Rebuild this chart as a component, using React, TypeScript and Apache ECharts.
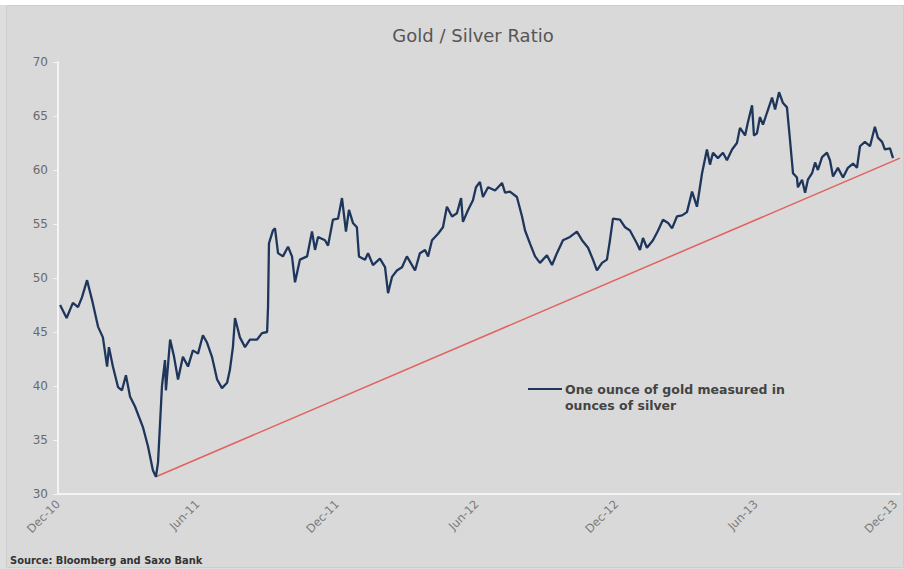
import React, { useEffect, useRef } from "react";
import * as echarts from "echarts";

// months since Dec-10 (x) and gold/silver ratio (y)
const months = [
  0.09, 0.37, 0.64, 0.86, 1.03, 1.25, 1.46, 1.72, 1.93, 2.11, 2.19, 2.36, 2.58, 2.75, 2.92, 3.1, 3.31, 3.65, 3.87, 4.08,
  4.21, 4.3, 4.47, 4.6, 4.64, 4.82, 4.99, 5.16, 5.37, 5.59, 5.8, 6.02, 6.23, 6.41, 6.62, 6.84, 7.05, 7.27, 7.39, 7.52,
  7.61, 7.82, 8.04, 8.25, 8.56, 8.77, 8.99, 9.03, 9.07, 9.24, 9.33, 9.46, 9.67, 9.89, 10.06, 10.19, 10.4, 10.71, 10.92,
  11.05, 11.18, 11.48, 11.61, 11.82, 12.04, 12.21, 12.38, 12.51, 12.68, 12.85, 12.94, 13.2, 13.33, 13.54, 13.84, 14.06,
  14.19, 14.36, 14.57, 14.79, 15.0, 15.35, 15.56, 15.78, 15.91, 16.08, 16.34, 16.55, 16.72, 16.94, 17.15, 17.33, 17.41,
  17.63, 17.84, 17.97, 18.14, 18.27, 18.49, 18.79, 19.09, 19.22, 19.43, 19.73, 19.95, 20.08, 20.29, 20.51, 20.72, 21.02,
  21.24, 21.45, 21.71, 22.01, 22.31, 22.53, 22.79, 23.0, 23.17, 23.39, 23.6, 23.73, 23.86, 24.16, 24.38, 24.59, 24.89,
  25.02, 25.15, 25.32, 25.58, 25.8, 26.01, 26.23, 26.4, 26.61, 26.83, 27.04, 27.26, 27.47, 27.69, 27.9, 28.03, 28.16,
  28.37, 28.59, 28.76, 28.98, 29.19, 29.32, 29.54, 29.66, 29.84, 29.92, 30.05, 30.18, 30.31, 30.48, 30.7, 30.83, 31.0,
  31.17, 31.34, 31.47, 31.6, 31.77, 31.81, 31.99, 32.12, 32.24, 32.42, 32.55, 32.67, 32.85, 33.06, 33.19, 33.32, 33.53,
  33.75, 33.96, 34.18, 34.35, 34.48, 34.69, 34.91, 35.12, 35.25, 35.43, 35.55, 35.77, 35.9,
];
const ratio = [
  47.5, 46.3, 47.7, 47.3, 48.2, 49.8, 48.0, 45.5, 44.5, 41.8, 43.6, 41.8, 39.9, 39.6, 41.0, 39.0, 38.1, 36.2, 34.4, 32.2,
  31.6, 32.9, 40.0, 42.4, 39.6, 44.3, 42.7, 40.6, 42.7, 41.8, 43.3, 43.0, 44.7, 44.0, 42.7, 40.6, 39.8, 40.3, 41.5, 43.6,
  46.3, 44.5, 43.6, 44.3, 44.3, 44.9, 45.0, 47.3, 53.2, 54.4, 54.6, 52.3, 52.0, 52.9, 52.0, 49.6, 51.7, 52.0, 54.3,
  52.6, 53.8, 53.5, 53.0, 55.4, 55.5, 57.4, 54.3, 56.3, 55.1, 54.7, 52.0, 51.7, 52.3, 51.2, 51.8, 51.0,
  48.6, 50.1, 50.7, 51.0, 52.0, 50.7, 52.3, 52.6, 52.0, 53.5, 54.1, 54.7, 56.6, 55.7, 56.0, 57.4, 55.2,
  56.3, 57.2, 58.4, 58.9, 57.5, 58.4, 58.1, 58.8, 57.9, 58.0, 57.5, 55.7, 54.4, 53.2, 52.0, 51.4, 52.1,
  51.2, 52.3, 53.5, 53.8, 54.3, 53.5, 52.8, 51.7, 50.7, 51.4, 51.7, 53.5, 55.5, 55.4, 54.7, 54.4, 53.2,
  52.6, 53.7, 52.8, 53.5, 54.4, 55.4, 55.1, 54.6, 55.7, 55.8, 56.1, 58.0, 56.6, 59.7, 61.9, 60.5, 61.6,
  61.1, 61.6, 60.9, 61.9, 62.5, 63.9, 63.2, 64.4, 66.0, 63.2, 63.4, 64.9, 64.2, 65.3, 66.7, 65.6, 67.2,
  66.2, 65.8, 62.8, 59.7, 59.3, 58.4, 59.1, 57.9, 59.1, 59.7, 60.7, 60.0, 61.2, 61.6, 60.9, 59.4, 60.2,
  59.3, 60.2, 60.6, 60.2, 62.2, 62.6, 62.2, 64.0, 63.0, 62.6, 61.9, 62.0, 61.1,
];
// trend line from the 2011 low to the right edge
const trendMonths = [4.21, 36.2];
const trendValues = [31.6, 61.1];

const xTickLabels = ["Dec-10", "Jun-11", "Dec-11", "Jun-12", "Dec-12", "Jun-13", "Dec-13"];
const yTicks = [30, 35, 40, 45, 50, 55, 60, 65, 70];

const TITLE = "Gold / Silver Ratio";
const LEGEND_LINE1 = "One ounce of gold measured in";
const LEGEND_LINE2 = "ounces of silver";
const SOURCE = "Source: Bloomberg and Saxo Bank";

export default function App() {
  const ref = useRef<HTMLDivElement>(null);
  useEffect(() => {
    if (!ref.current) return;
    const chart = echarts.init(ref.current, null, { renderer: "svg" });
    const lineData = months.map((m, i) => [m, ratio[i]]);
    const trendData = trendMonths.map((m, i) => [m, trendValues[i]]);
    chart.setOption({
      animation: false,
      backgroundColor: "#dedede",
      title: {
        text: TITLE,
        left: 468,
        top: 21,
        textAlign: "center",
        textStyle: { fontFamily: "DejaVu Sans", fontSize: 18, fontWeight: "normal", color: "#555" },
      },
      grid: { left: 58, right: 4, top: 62, bottom: 75 },
      xAxis: {
        type: "value",
        min: 0,
        max: 36.2,
        interval: 6,
        axisLine: { show: true, lineStyle: { color: "#f4f4f4", width: 2 } },
        axisTick: { show: false },
        splitLine: { show: false },
        axisLabel: {
          rotate: 45,
          margin: 8,
          fontFamily: "DejaVu Sans",
          fontSize: 11.5,
          color: "#7a7a7a",
          showMaxLabel: false,
          formatter: (v: number) => {
            const k = Math.round(v / 6);
            return Math.abs(v - k * 6) < 1e-6 && xTickLabels[k] ? xTickLabels[k] : "";
          },
        },
      },
      yAxis: {
        type: "value",
        min: yTicks[0],
        max: yTicks[yTicks.length - 1],
        interval: 5,
        axisLine: { show: true, lineStyle: { color: "#f4f4f4", width: 2 } },
        axisTick: { show: true, length: 5, lineStyle: { color: "#f4f4f4", width: 1 } },
        splitLine: { show: false },
        axisLabel: { margin: 10, fontFamily: "DejaVu Sans", fontSize: 12, color: "#6a6a6a" },
      },
      series: [
        {
          type: "line",
          data: trendData,
          symbol: "none",
          lineStyle: { color: "#e0625f", width: 1.5 },
          z: 2,
        },
        {
          type: "line",
          name: "ratio",
          data: lineData,
          symbol: "none",
          lineStyle: { color: "#1f365c", width: 2.3 },
          z: 3,
        },
      ],
      graphic: [
        { type: "rect", shape: { x: 0, y: 0, width: 904, height: 5 }, style: { fill: "#ffffff" }, z: -10 },
        {
          type: "rect",
          shape: { x: 6.5, y: 5.5, width: 897, height: 562 },
          style: { fill: "#d9d9d9", stroke: "#cdcdcd", lineWidth: 1 },
          z: -10,
        },
        {
          type: "line",
          shape: { x1: 528, y1: 389, x2: 562, y2: 389 },
          style: { stroke: "#1f365c", lineWidth: 2 },
        },
        {
          type: "text",
          x: 565,
          y: 381,
          style: {
            text: LEGEND_LINE1 + "\n" + LEGEND_LINE2,
            fontFamily: "DejaVu Sans",
            fontSize: 12.5,
            fontWeight: "bold",
            fill: "#444",
            lineHeight: 16,
          },
        },
        {
          type: "text",
          x: 10,
          y: 555,
          style: {
            text: SOURCE,
            fontFamily: "Liberation Sans Narrow, DejaVu Sans Condensed, Liberation Sans",
            fontSize: 11,
            fontWeight: "bold",
            fill: "#333",
          },
        },
      ],
    });
    return () => chart.dispose();
  }, []);
  return <div ref={ref} style={{ position: "fixed", left: 0, top: 0, width: 904, height: 569 }} />;
}
